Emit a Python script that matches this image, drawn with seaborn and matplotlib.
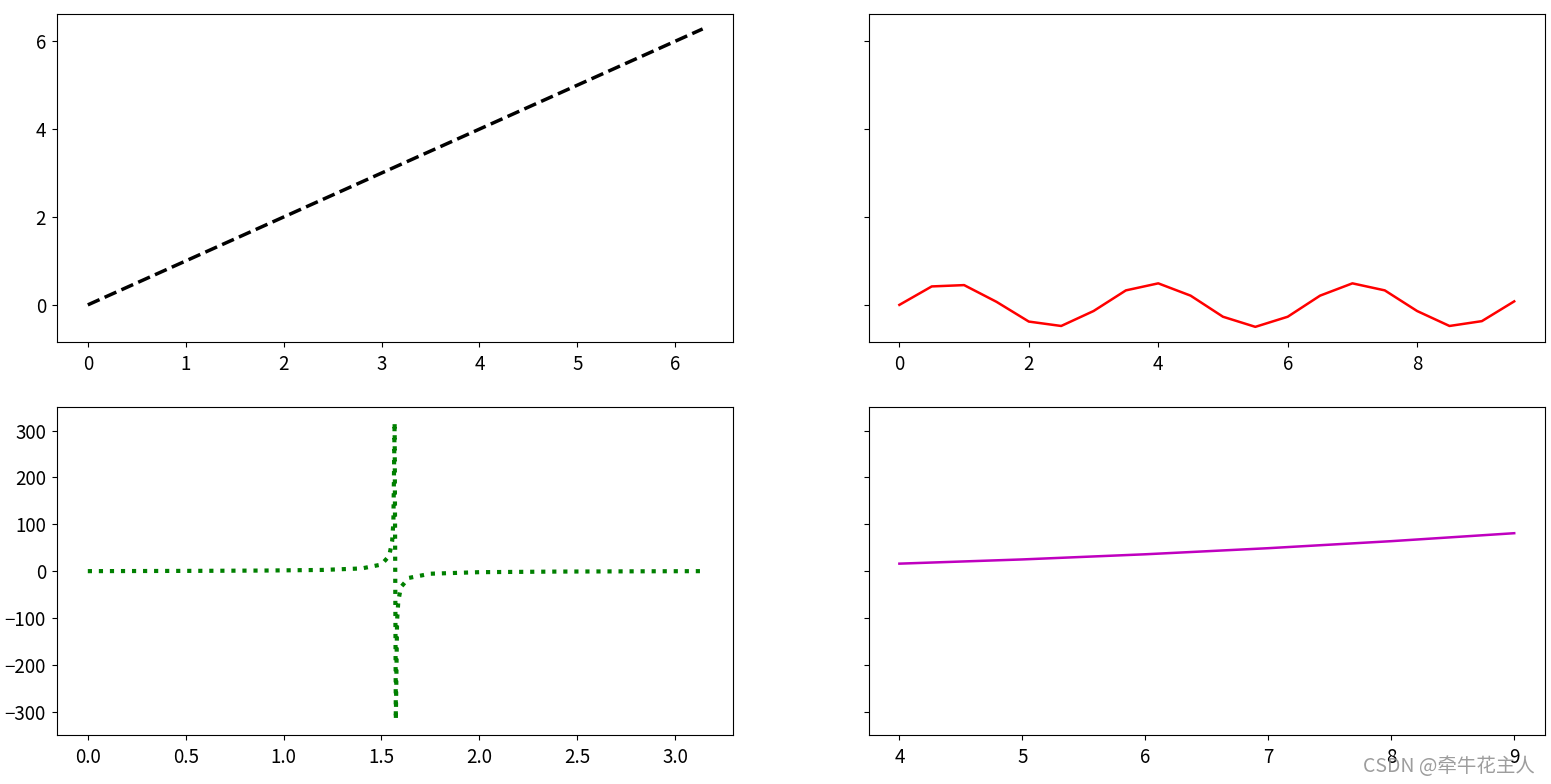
import matplotlib
matplotlib.use("Agg")
import matplotlib.pyplot as plt
from matplotlib.ticker import MultipleLocator
import seaborn as sns

plt.rcParams['font.family'] = ['Noto Sans CJK SC', 'DejaVu Sans']
plt.rcParams['axes.unicode_minus'] = True

# top-left: straight line
line_x = [0.0, 6.28]
line_y = [0.0, 6.28]
top_ytick_step = 2

# top-right: wave
wave_x = [0.0, 0.5, 1.0, 1.5, 2.0, 2.5, 3.0, 3.5, 4.0, 4.5,
          5.0, 5.5, 6.0, 6.5, 7.0, 7.5, 8.0, 8.5, 9.0, 9.5]
wave_y = [0.00, 0.42, 0.45, 0.07, -0.38, -0.48, -0.14, 0.33, 0.49, 0.21,
          -0.27, -0.50, -0.27, 0.21, 0.49, 0.33, -0.14, -0.48, -0.37, 0.08]

# bottom-left: spike curve
spike_x = [0.0, 0.3, 0.6, 0.9, 1.2, 1.4, 1.5, 1.54, 1.555, 1.5614, 1.5677,
           1.5739, 1.5802, 1.5865, 1.60, 1.64, 1.75, 2.0, 2.4, 2.8, 3.1416]
spike_y = [0.0, 0.31, 0.68, 1.26, 2.57, 5.8, 14.1, 32.5, 63.6, 106, 318,
           -318, -106, -64, -34, -14.5, -5.5, -2.2, -0.92, -0.36, 0.0]

# bottom-right: gentle curve
curve_x = [4, 5, 6, 7, 8, 9]
curve_y = [16, 25, 36, 49, 64, 81]

fig, axes = plt.subplots(2, 2, figsize=(15.51, 7.84), dpi=100, sharey='row')
fig.subplots_adjust(left=0.0368, right=0.9961, top=0.9821, bottom=0.0625,
                    wspace=0.2, hspace=0.2)

sns.lineplot(x=line_x, y=line_y, ax=axes[0, 0], color='k', linestyle='--', linewidth=2.5)
sns.lineplot(x=wave_x, y=wave_y, ax=axes[0, 1], color='r', linewidth=1.8)
sns.lineplot(x=spike_x, y=spike_y, ax=axes[1, 0], color='g', linestyle=':', linewidth=3)
sns.lineplot(x=curve_x, y=curve_y, ax=axes[1, 1], color='m', linewidth=1.8)

axes[0, 0].yaxis.set_major_locator(MultipleLocator(top_ytick_step))

for ax in axes.flat:
    ax.tick_params(labelsize=13.5)
    ax.tick_params(axis='y', pad=4.5)
    ax.tick_params(axis='x', pad=5)

fig.text(1535 / 1551, 1 - 766 / 784, 'CSDN @牵牛花主人', ha='right', va='center',
         fontsize=14, color='#8c8c8c', alpha=0.85)

fig.savefig('out.png', dpi=100)
